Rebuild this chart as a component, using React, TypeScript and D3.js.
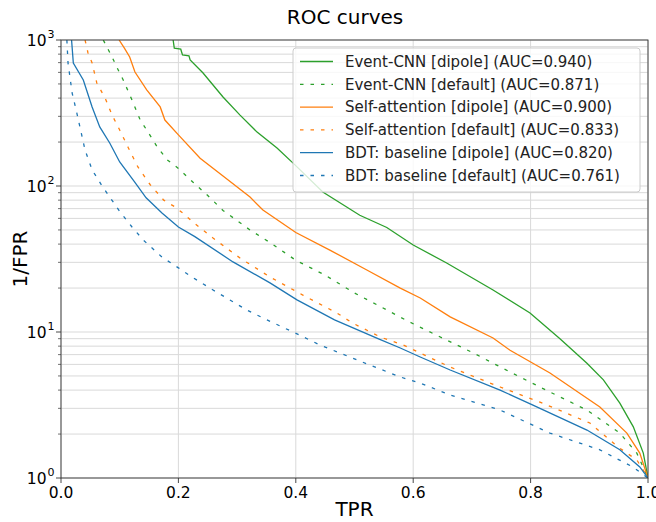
import React from "react";
import * as d3 from "d3";

const W = 656;
const H = 522;

const xTicks = [0, 0.2, 0.4, 0.6, 0.8, 1.0];
const xTickLabels = ["0.0", "0.2", "0.4", "0.6", "0.8", "1.0"];
const yMajor = [1, 10, 100, 1000];
const yMajorExp = ["0", "1", "2", "3"];

// Event-CNN [dipole]
const ecDipoleTPR = [0.191, 0.193, 0.204, 0.207, 0.218, 0.22, 0.242, 0.276, 0.305, 0.334, 0.368, 0.399, 0.446, 0.509, 0.555, 0.6, 0.657, 0.736, 0.799, 0.85, 0.896, 0.924, 0.952, 0.975, 0.992, 1.0];
const ecDipoleVal = [1000, 880, 865, 790, 780, 730, 594, 407, 306, 234, 182, 139, 91, 63, 52, 39.4, 29.7, 19.4, 13.5, 9.0, 6.1, 4.7, 3.26, 2.24, 1.48, 1.0];
// Event-CNN [default]
const ecDefaultTPR = [0.072, 0.087, 0.095, 0.106, 0.121, 0.135, 0.146, 0.164, 0.181, 0.2, 0.225, 0.25, 0.276, 0.322, 0.36, 0.4, 0.45, 0.5, 0.594, 0.64, 0.702, 0.765, 0.833, 0.896, 0.952, 0.981, 1.0];
const ecDefaultVal = [1000, 765, 653, 532, 388, 283, 242, 185, 151, 132, 106, 86, 68, 50, 40, 31, 24.5, 18.5, 11.7, 9.5, 7.2, 5.32, 3.88, 2.92, 2.03, 1.48, 1.0];
// Self-attention [dipole]
const saDipoleTPR = [0.099, 0.108, 0.117, 0.126, 0.146, 0.169, 0.177, 0.2, 0.237, 0.276, 0.322, 0.344, 0.4, 0.458, 0.521, 0.578, 0.612, 0.663, 0.736, 0.765, 0.833, 0.918, 0.964, 0.986, 1.0];
const saDipoleVal = [1000, 880, 765, 603, 455, 348, 283, 224, 155, 117, 84, 68.5, 48, 36.4, 26.6, 20, 17.1, 12.7, 9.1, 7.5, 5.24, 3.06, 2.03, 1.48, 1.0];
// Self-attention [default]
const saDefaultTPR = [0.041, 0.046, 0.053, 0.061, 0.075, 0.087, 0.1, 0.114, 0.131, 0.152, 0.175, 0.194, 0.208, 0.225, 0.259, 0.305, 0.356, 0.412, 0.47, 0.497, 0.545, 0.583, 0.612, 0.663, 0.748, 0.816, 0.901, 0.949, 0.981, 1.0];
const saDefaultVal = [1000, 815, 695, 508, 401, 306, 242, 185, 135, 102, 80, 72, 65, 56.5, 44, 32.1, 23.8, 17.9, 13.5, 11.5, 9.2, 8.15, 7.18, 5.75, 4.2, 3.31, 2.38, 1.63, 1.33, 1.0];
// BDT: baseline [dipole]
const bdtDipoleTPR = [0.018, 0.021, 0.038, 0.053, 0.066, 0.083, 0.1, 0.125, 0.145, 0.172, 0.2, 0.228, 0.293, 0.356, 0.402, 0.466, 0.54, 0.578, 0.612, 0.663, 0.748, 0.804, 0.896, 0.952, 0.986, 1.0];
const bdtDipoleVal = [1000, 695, 532, 348, 254, 197, 146, 107, 83, 65.3, 52.4, 45, 30.2, 21.7, 16.6, 12.1, 9.0, 7.77, 6.74, 5.49, 4.0, 3.16, 2.13, 1.56, 1.19, 1.0];
// BDT: baseline [default]
const bdtDefaultTPR = [0.01, 0.012, 0.019, 0.027, 0.041, 0.053, 0.07, 0.1, 0.121, 0.14, 0.172, 0.2, 0.223, 0.259, 0.317, 0.351, 0.407, 0.441, 0.526, 0.578, 0.612, 0.663, 0.748, 0.833, 0.918, 0.974, 1.0];
const bdtDefaultVal = [1000, 695, 433, 316, 176, 129, 100, 67, 52.4, 42.7, 32.6, 27.5, 23.8, 19.4, 14.1, 12.1, 9.5, 8.15, 5.94, 4.92, 4.47, 3.7, 2.92, 2.03, 1.56, 1.19, 1.0];

const seriesLabels = [
  "Event-CNN [dipole] (AUC=0.940)",
  "Event-CNN [default] (AUC=0.871)",
  "Self-attention [dipole] (AUC=0.900)",
  "Self-attention [default] (AUC=0.833)",
  "BDT: baseline [dipole] (AUC=0.820)",
  "BDT: baseline [default] (AUC=0.761)",
];
const seriesColors = ["#2ca02c", "#2ca02c", "#ff7f0e", "#ff7f0e", "#1f77b4", "#1f77b4"];
const seriesDashed = [false, true, false, true, false, true];
const seriesTPR = [ecDipoleTPR, ecDefaultTPR, saDipoleTPR, saDefaultTPR, bdtDipoleTPR, bdtDefaultTPR];
const seriesVal = [ecDipoleVal, ecDefaultVal, saDipoleVal, saDefaultVal, bdtDipoleVal, bdtDefaultVal];

const FONT = "DejaVu Sans, sans-serif";
const DASH = "3.5,7";

export default function App() {
  const left = 61, right = 648, top = 40, bottom = 478;
  const x = d3.scaleLinear().domain([0, 1]).range([left, right]);
  const y = d3.scaleLog().domain([1, 1000]).range([bottom, top]);

  const minor: number[] = [];
  for (let d = 1; d < 1000; d *= 10) {
    for (let k = 2; k <= 9; k++) minor.push(d * k);
  }

  const line = d3
    .line<[number, number]>()
    .x((d) => x(d[0]))
    .y((d) => y(d[1]));

  const gridColor = "#d9d9d9";
  const order = [0, 1, 2, 3, 4, 5];

  const legX = 293, legY = 48, legW = 347, legH = 144;
  const rowH = 22.8;

  return (
    <svg width={W} height={H} style={{ position: "absolute", left: 0, top: 0 }} fontFamily={FONT}>
      <rect x={0} y={0} width={W} height={H} fill="white" />
      <defs>
        <clipPath id="plotClip">
          <rect x={left} y={top} width={right - left} height={bottom - top} />
        </clipPath>
      </defs>
      {minor.map((v, i) => (
        <line key={"mg" + i} x1={left} x2={right} y1={y(v)} y2={y(v)} stroke={gridColor} strokeWidth={1} />
      ))}
      {yMajor.map((v, i) => (
        <line key={"Mg" + i} x1={left} x2={right} y1={y(v)} y2={y(v)} stroke={gridColor} strokeWidth={1} />
      ))}
      {xTicks.map((v, i) => (
        <line key={"xg" + i} x1={x(v)} x2={x(v)} y1={top} y2={bottom} stroke={gridColor} strokeWidth={1} />
      ))}
      <g clipPath="url(#plotClip)">
        {order.map((s) => {
          const pts = seriesTPR[s].map((t, i) => [t, seriesVal[s][i]] as [number, number]);
          return (
            <path
              key={"c" + s}
              d={line(pts) || ""}
              fill="none"
              stroke={seriesColors[s]}
              strokeWidth={1.3}
              strokeDasharray={seriesDashed[s] ? DASH : undefined}
            />
          );
        })}
      </g>
      <rect x={left} y={top} width={right - left} height={bottom - top} fill="none" stroke="#333" strokeWidth={0.9} />
      {yMajor.map((v, i) => (
        <g key={"yt" + i}>
          <line x1={left - 5} x2={left} y1={y(v)} y2={y(v)} stroke="#333" strokeWidth={0.9} />
          <text x={46.5} y={y(v) + 5.5} fontSize={15.5} textAnchor="end" fill="#000">10</text>
          <text x={47.5} y={y(v) - 2.5} fontSize={11} textAnchor="start" fill="#000">{yMajorExp[i]}</text>
        </g>
      ))}
      {minor.map((v, i) => (
        <line key={"ymt" + i} x1={left - 3} x2={left} y1={y(v)} y2={y(v)} stroke="#333" strokeWidth={0.7} />
      ))}
      {xTicks.map((v, i) => (
        <g key={"xt" + i}>
          <line x1={x(v)} x2={x(v)} y1={bottom} y2={bottom + 5} stroke="#333" strokeWidth={0.9} />
          <text x={x(v)} y={498} fontSize={15.5} textAnchor="middle" fill="#000">{xTickLabels[i]}</text>
        </g>
      ))}
      <text x={(left + right) / 2} y={516} fontSize={20} textAnchor="middle" fill="#000">TPR</text>
      <text transform={`translate(27, ${(top + bottom) / 2}) rotate(-90)`} fontSize={20} textAnchor="middle" fill="#000">1/FPR</text>
      <text x={345} y={24} fontSize={20} textAnchor="middle" fill="#000">ROC curves</text>
      <rect x={legX} y={legY} width={legW} height={legH} rx={3} ry={3} fill="white" fillOpacity={0.8} stroke="#cccccc" strokeWidth={1} />
      {seriesLabels.map((lab, i) => {
        const cy = legY + 13.5 + i * rowH;
        return (
          <g key={"lg" + i}>
            <line x1={300} x2={333} y1={cy} y2={cy} stroke={seriesColors[i]} strokeWidth={1.3} strokeDasharray={seriesDashed[i] ? DASH : undefined} />
            <text x={345} y={cy + 5.3} fontSize={15} fill="#222">{lab}</text>
          </g>
        );
      })}
    </svg>
  );
}
